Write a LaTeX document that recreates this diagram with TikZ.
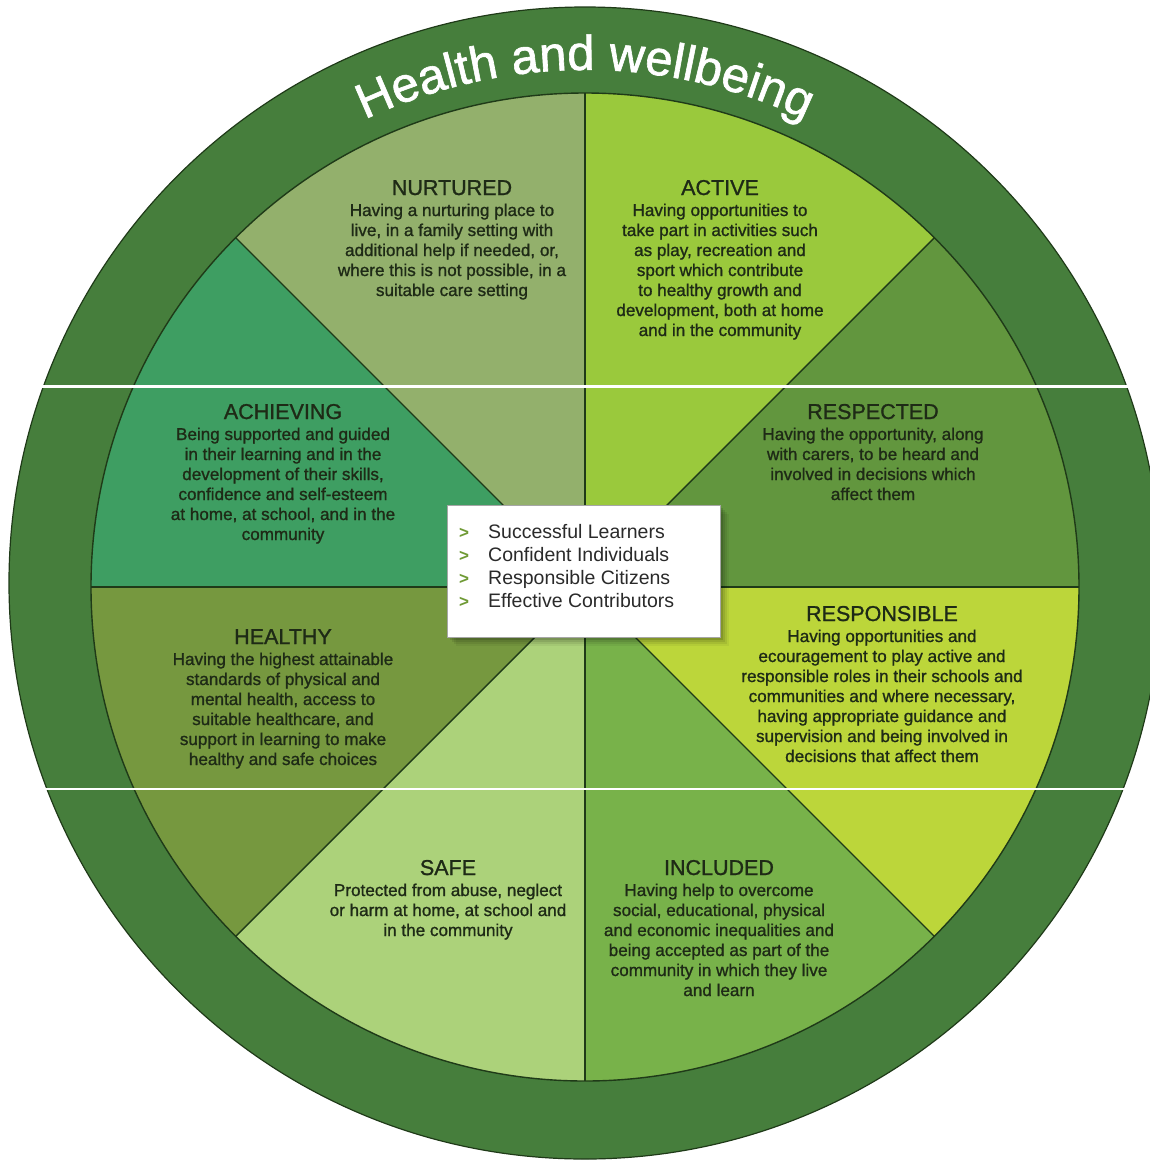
\documentclass[tikz,border=0pt]{standalone}
\usepackage{fontspec}
\setmainfont{Liberation Sans}
\newfontfamily\medsans[FakeBold=1.1]{Liberation Sans}
\newfontfamily\titlesans[FakeBold=1.3]{Liberation Sans}
\usetikzlibrary{decorations.text}
\definecolor{ringc}{HTML}{467E3C}
\definecolor{edgec}{HTML}{1F3A18}
\definecolor{cNur}{HTML}{93B06C}
\definecolor{cAct}{HTML}{9AC93C}
\definecolor{cRes}{HTML}{62963E}
\definecolor{cRsp}{HTML}{BCD63A}
\definecolor{cInc}{HTML}{78B24A}
\definecolor{cSaf}{HTML}{ACD27A}
\definecolor{cHea}{HTML}{76983F}
\definecolor{cAch}{HTML}{3E9E62}
\definecolor{txt}{HTML}{1E2A16}
\definecolor{boxtxt}{HTML}{2A2A2A}
\definecolor{mark}{HTML}{6F9A35}
\begin{document}
\begin{tikzpicture}[x=1pt,y=1pt,
  sectitle/.style={font=\medsans\fontsize{21.5}{24}\selectfont, text=txt, anchor=base, inner sep=0pt},
  secbody/.style={font=\medsans\fontsize{17.1}{20}\selectfont, text=txt, anchor=base, align=center, inner sep=0pt},
  divider/.style={draw=edgec, line width=1.4pt},
  itemtxt/.style={font=\fontsize{19.5}{23}\selectfont, text=boxtxt, anchor=base west, inner sep=0pt},
  itemmark/.style={font=\bfseries\fontsize{17}{23}\selectfont, text=mark, anchor=base west, inner sep=0pt}]
\useasboundingbox (0,0) rectangle (1150,-1160);
\begin{scope}
\clip (0,0) rectangle (1150,-1160);
% outer ring
\coordinate (oc) at (585,-583);
\fill[ringc, draw=edgec, line width=1.2pt] (oc) circle[radius=576];
% inner sectors
\coordinate (C) at (585,-587);
\foreach \a/\b/\col in {90/135/cNur,135/180/cAch,180/225/cHea,225/270/cSaf,270/315/cInc,315/360/cRsp,0/45/cRes,45/90/cAct}{
  \fill[\col] (C) -- ++(\a:494) arc[start angle=\a, end angle=\b, radius=494] -- cycle;
}
\foreach \a in {0,45,...,315}{
  \draw[divider] (C) -- ++(\a:494);
}
\draw[divider] (C) circle[radius=494];
% title along arc
\path[decorate, decoration={text along path, text align=center, text color=white,
  text={|\titlesans\fontsize{49}{50}\selectfont|Health and wellbeing}}]
  (oc) ++(152:513) arc[start angle=152, end angle=28, radius=513];
% white seam lines
\draw[white, line width=3pt] (0,-386) -- (1150,-386);
\draw[white, line width=2pt] (0,-789) -- (1150,-789);
\end{scope}
% sector texts (body nodes anchored at the baseline of their last line)
\node[sectitle] (tNur) at (452,-195) {NURTURED};
\node[secbody] (bNur) at (452,-296) {Having a nurturing place to\\live, in a family setting with\\additional help if needed, or,\\where this is not possible, in a\\suitable care setting};
\node[sectitle] (tAct) at (720,-195) {ACTIVE};
\node[secbody] (bAct) at (720,-336) {Having opportunities to\\take part in activities such\\as play, recreation and\\sport which contribute\\to healthy growth and\\development, both at home\\and in the community};
\node[sectitle] (tAch) at (283,-419) {ACHIEVING};
\node[secbody] (bAch) at (283,-540) {Being supported and guided\\in their learning and in the\\development of their skills,\\confidence and self-esteem\\at home, at school, and in the\\community};
\node[sectitle] (tRes) at (873,-419) {RESPECTED};
\node[secbody] (bRes) at (873,-500) {Having the opportunity, along\\with carers, to be heard and\\involved in decisions which\\affect them};
\node[sectitle] (tHea) at (283,-644) {HEALTHY};
\node[secbody] (bHea) at (283,-765) {Having the highest attainable\\standards of physical and\\mental health, access to\\suitable healthcare, and\\support in learning to make\\healthy and safe choices};
\node[sectitle] (tRsp) at (882,-621) {RESPONSIBLE};
\node[secbody] (bRsp) at (882,-762) {Having opportunities and\\ecouragement to play active and\\responsible roles in their schools and\\communities and where necessary,\\having appropriate guidance and\\supervision and being involved in\\decisions that affect them};
\node[sectitle] (tSaf) at (448,-875) {SAFE};
\node[secbody] (bSaf) at (448,-936) {Protected from abuse, neglect\\or harm at home, at school and\\in the community};
\node[sectitle] (tInc) at (719,-875) {INCLUDED};
\node[secbody] (bInc) at (719,-996) {Having help to overcome\\social, educational, physical\\and economic inequalities and\\being accepted as part of the\\community in which they live\\and learn};
% centre box with soft shadow
\foreach \d/\o in {9/0.05,7/0.07,5/0.09,3/0.12}{
  \fill[black, opacity=\o] (447+\d,-505-\d) rectangle (720+\d,-637-\d);
}
\node[draw=gray!70, line width=0.8pt, fill=white, minimum width=273pt, minimum height=132pt, inner sep=0pt, anchor=north west] (box) at (447,-505) {};
\foreach \y/\t in {538/Successful Learners,561/Confident Individuals,584/Responsible Citizens,607/Effective Contributors}{
  \node[itemmark] at (459,-\y) {>};
  \node[itemtxt] at (488,-\y) {\t};
}
\end{tikzpicture}
\end{document}
